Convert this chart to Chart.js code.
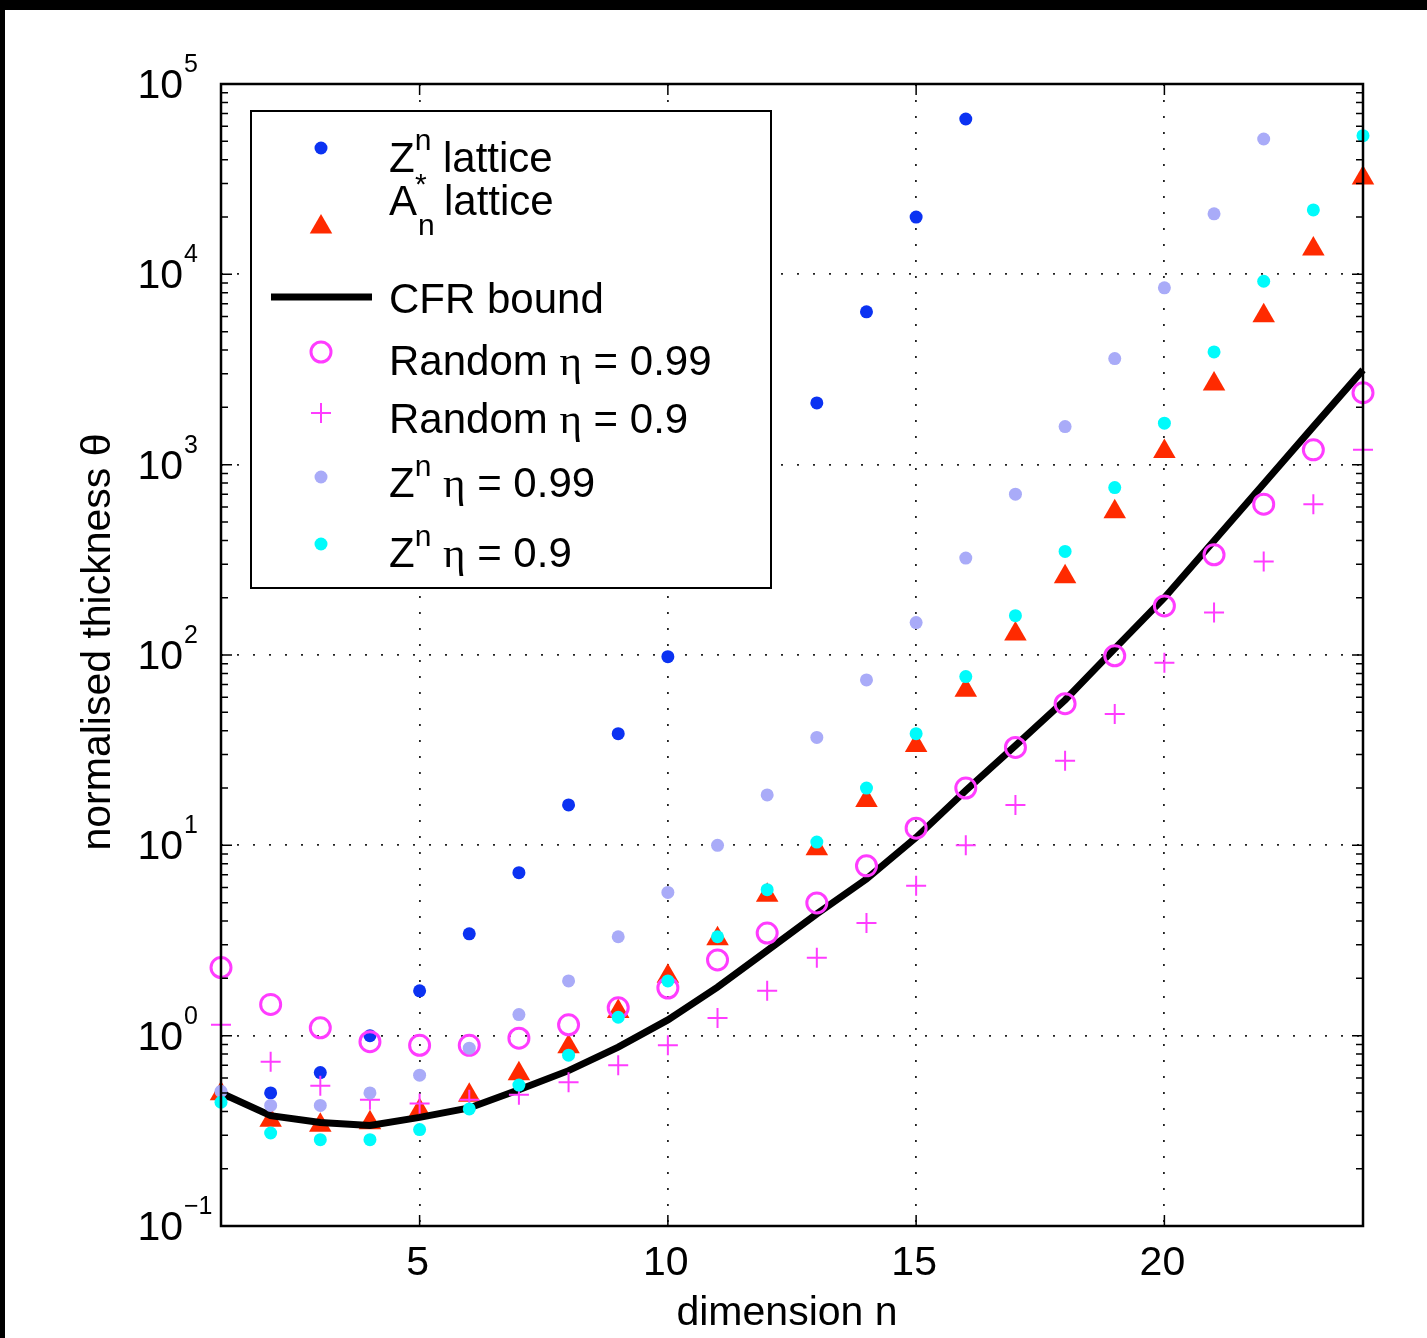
<!DOCTYPE html>
<html>
<head>
<meta charset="utf-8">
<title>Normalised thickness vs dimension</title>
<script src="https://cdn.jsdelivr.net/npm/chart.js@4.4.1/dist/chart.umd.min.js"></script>
<style>
  html, body { margin: 0; padding: 0; background: #000; }
  #page { position: absolute; left: 5px; top: 10px; width: 1422px; height: 1328px; background: #fff; }
  #chart { position: absolute; left: 0; top: 0; }
</style>
</head>
<body>
<div id="page"></div>
<canvas id="chart" width="1427" height="1338"></canvas>
<script>
// Data (normalised thickness per dimension n)
const dims = [1, 2, 3, 4, 5, 6, 7, 8, 9, 10, 11, 12, 13, 14, 15, 16, 17, 18, 19, 20, 21, 22, 23, 24];
// n = 11 sits behind the legend, n = 12 is not visible at all
const zLattice = [0.50, 0.50, 0.64, 1.0, 1.72, 3.43, 7.18, 16.3, 38.6, 98, 263, null, 2110, 6350, 20000, 65500,
                  null, null, null, null, null, null, null, null];
const anLattice = [0.496, 0.359, 0.338, 0.349, 0.405, 0.486, 0.63, 0.875, 1.34, 2.05, 3.23, 5.46, 9.6, 17.2,
                   33.5, 65.2, 129, 258, 565, 1172, 2655, 6050, 13600, 32100];
const cfrBound = [0.50, 0.38, 0.35, 0.337, 0.372, 0.417, 0.52, 0.655, 0.87, 1.21, 1.8, 2.8, 4.36, 6.65,
                  11, 19.4, 33.4, 58, 108, 200, 398, 794, 1585, 3150];
const random099 = [2.28, 1.46, 1.10, 0.93, 0.89, 0.89, 0.97, 1.14, 1.40, 1.78, 2.5, 3.46, 4.98, 7.8,
                   12.3, 20, 32.7, 55.5, 99, 181, 336, 620, 1196, 2390];
const random09 = [1.14, 0.73, 0.546, 0.46, 0.44, 0.46, 0.49, 0.57, 0.70, 0.89, 1.24, 1.72, 2.57, 3.91,
                  6.14, 10, 16.3, 27.8, 49, 91, 167, 310, 620, 1196];
const zn099 = [0.51, 0.43, 0.43, 0.50, 0.62, 0.86, 1.29, 1.94, 3.31, 5.66, 10.0, 18.4, 36.9, 74,
               148, 323, 700, 1585, 3610, 8490, 20800, 51400, null, null];
const zn09 = [0.447, 0.308, 0.284, 0.284, 0.321, 0.412, 0.55, 0.79, 1.25, 1.94, 3.31, 5.85, 10.4, 20,
              38.6, 77, 161, 350, 758, 1652, 3910, 9200, 21800, 53500];

const xTicks = [5, 10, 15, 20];
const yDecades = [-1, 0, 1, 2, 3, 4, 5];

const SANS = '"Liberation Sans", Arial, Helvetica, sans-serif';
const SERIF = '"Liberation Serif", "Times New Roman", serif';
const BLUE = '#0b32f2';
const RED = '#ff2a00';
const MAGENTA = '#ff3cff';
const LAVENDER = '#a9abf8';
const CYAN = '#00fbfb';

function toPoints(values) {
    return dims.map((n, i) => ({ x: n, y: values[i] })).filter(p => p.y !== null);
}

// small drawing helpers for legend markers
function dot(ctx, x, y, r, color) {
    ctx.fillStyle = color;
    ctx.beginPath();
    ctx.arc(x, y, r, 0, Math.PI * 2);
    ctx.fill();
}

function drawRuns(ctx, x, y, runs) {
    for (const r of runs) {
        ctx.font = r.font;
        ctx.fillText(r.text, x, y + (r.dy || 0));
        x += ctx.measureText(r.text).width + (r.dx || 0);
    }
}

const big = '41px ' + SANS;
const leg = '42px ' + SANS;
const small = '30px ' + SANS;
const eta = '43px ' + SERIF;

const framePlugin = {
    id: 'frame',
    afterDatasetsDraw(chart) {
        const { ctx, chartArea: a, scales: { x, y } } = chart;
        ctx.save();
        ctx.strokeStyle = '#000';
        ctx.lineWidth = 1.5;
        ctx.beginPath();
        // x tick marks, inside top and bottom
        xTicks.forEach(v => {
            const px = x.getPixelForValue(v);
            ctx.moveTo(px, a.bottom); ctx.lineTo(px, a.bottom - 11);
            ctx.moveTo(px, a.top); ctx.lineTo(px, a.top + 11);
        });
        // log y ticks (major + minor), inside left and right
        yDecades.forEach(e => {
            for (let m = 1; m <= 9; m++) {
                const v = m * Math.pow(10, e);
                if (v > 1e5 * 1.0001) break;
                const py = y.getPixelForValue(v);
                const len = m === 1 ? 11 : 7;
                ctx.moveTo(a.left, py); ctx.lineTo(a.left + len, py);
                ctx.moveTo(a.right, py); ctx.lineTo(a.right - len, py);
            }
        });
        ctx.stroke();

        ctx.lineWidth = 2.5;
        ctx.strokeRect(a.left, a.top, a.right - a.left, a.bottom - a.top);

        // tick labels
        ctx.fillStyle = '#000';
        ctx.textAlign = 'center';
        ctx.textBaseline = 'alphabetic';
        ctx.font = big;
        xTicks.forEach(v => ctx.fillText(String(v), x.getPixelForValue(v) - 2, a.bottom + 49));

        yDecades.forEach(e => {
            const py = y.getPixelForValue(Math.pow(10, e));
            ctx.textAlign = 'right';
            ctx.font = big;
            ctx.fillText('10', a.left - 38, py + 14);
            ctx.textAlign = 'left';
            ctx.font = '25px ' + SANS;
            ctx.fillText(e < 0 ? '\u2212' + (-e) : String(e), a.left - 37, py - 12);
        });

        // axis titles
        ctx.textAlign = 'center';
        ctx.font = big;
        ctx.fillText('dimension n', (a.left + a.right) / 2 - 5, a.bottom + 99);
        ctx.save();
        ctx.translate(110, 642);
        ctx.rotate(-Math.PI / 2);
        ctx.fillText('normalised thickness \u03b8', 0, 0);
        ctx.restore();
        ctx.restore();
    },
    afterDraw(chart) {
        const ctx = chart.ctx;
        ctx.save();
        // legend box
        ctx.fillStyle = '#fff';
        ctx.fillRect(251, 111, 520, 477);
        ctx.strokeStyle = '#000';
        ctx.lineWidth = 2;
        ctx.strokeRect(251, 111, 520, 477);

        const mx = 321;
        dot(ctx, mx, 148, 6.5, BLUE);
        // triangle
        const r = 13, ty = 227;
        ctx.fillStyle = RED;
        ctx.beginPath();
        ctx.moveTo(mx, ty - r);
        ctx.lineTo(mx + r * 0.866, ty + r / 2);
        ctx.lineTo(mx - r * 0.866, ty + r / 2);
        ctx.closePath();
        ctx.fill();
        // line
        ctx.strokeStyle = '#000';
        ctx.lineWidth = 7;
        ctx.beginPath();
        ctx.moveTo(271, 297); ctx.lineTo(372, 297);
        ctx.stroke();
        // ring
        ctx.strokeStyle = MAGENTA;
        ctx.lineWidth = 3;
        ctx.beginPath();
        ctx.arc(mx, 352, 10, 0, Math.PI * 2);
        ctx.stroke();
        // plus
        ctx.lineWidth = 2;
        ctx.beginPath();
        ctx.moveTo(mx - 10, 413); ctx.lineTo(mx + 10, 413);
        ctx.moveTo(mx, 403); ctx.lineTo(mx, 423);
        ctx.stroke();
        dot(ctx, mx, 477, 6.5, LAVENDER);
        dot(ctx, mx, 544, 6.5, CYAN);

        // legend text
        ctx.fillStyle = '#000';
        ctx.textAlign = 'left';
        ctx.textBaseline = 'alphabetic';
        const tx = 389;
        drawRuns(ctx, tx, 172, [
            { text: 'Z', font: leg },
            { text: 'n', font: small, dy: -22 },
            { text: ' lattice', font: leg }
        ]);
        ctx.font = leg;
        ctx.fillText('A', tx, 215);
        const aw = ctx.measureText('A').width;
        ctx.font = small;
        ctx.fillText('*', tx + aw - 2, 194);
        ctx.fillText('n', tx + aw + 1, 235);
        ctx.font = leg;
        ctx.fillText('lattice', 444, 215);
        ctx.fillText('CFR bound', tx, 313);
        drawRuns(ctx, tx, 375, [
            { text: 'Random ', font: leg },
            { text: '\u03b7', font: eta },
            { text: ' = 0.99', font: leg }
        ]);
        drawRuns(ctx, tx, 433, [
            { text: 'Random ', font: leg },
            { text: '\u03b7', font: eta },
            { text: ' = 0.9', font: leg }
        ]);
        drawRuns(ctx, tx, 497, [
            { text: 'Z', font: leg },
            { text: 'n', font: small, dy: -21 },
            { text: ' ', font: leg },
            { text: '\u03b7', font: eta },
            { text: ' = 0.99', font: leg }
        ]);
        drawRuns(ctx, tx, 567, [
            { text: 'Z', font: leg },
            { text: 'n', font: small, dy: -21 },
            { text: ' ', font: leg },
            { text: '\u03b7', font: eta },
            { text: ' = 0.9', font: leg }
        ]);
        ctx.restore();
    }
};

const dotted = { color: '#222', lineWidth: 1.8, drawTicks: false };

new Chart(document.getElementById('chart'), {
    type: 'scatter',
    data: {
        datasets: [
            {
                label: 'Zn lattice', data: toPoints(zLattice), order: 7, clip: false,
                pointStyle: 'circle', pointRadius: 6.5, backgroundColor: BLUE, borderWidth: 0
            },
            {
                label: 'An* lattice', data: toPoints(anLattice), order: 6, clip: false,
                pointStyle: 'triangle', pointRadius: 13, backgroundColor: RED, borderWidth: 0
            },
            {
                label: 'CFR bound', data: toPoints(cfrBound), order: 5, clip: false,
                showLine: true, borderColor: '#000', borderWidth: 7, pointRadius: 0, tension: 0
            },
            {
                label: 'Random eta = 0.99', data: toPoints(random099), order: 4, clip: false,
                pointStyle: 'circle', pointRadius: 10, backgroundColor: 'rgba(0,0,0,0)',
                borderColor: MAGENTA, borderWidth: 3
            },
            {
                label: 'Random eta = 0.9', data: toPoints(random09), order: 3, clip: false,
                pointStyle: 'cross', pointRadius: 10, borderColor: MAGENTA, borderWidth: 2
            },
            {
                label: 'Zn eta = 0.99', data: toPoints(zn099), order: 2, clip: false,
                pointStyle: 'circle', pointRadius: 6.5, backgroundColor: LAVENDER, borderWidth: 0
            },
            {
                label: 'Zn eta = 0.9', data: toPoints(zn09), order: 1, clip: false,
                pointStyle: 'circle', pointRadius: 6.5, backgroundColor: CYAN, borderWidth: 0
            }
        ]
    },
    options: {
        responsive: false,
        animation: false,
        events: [],
        layout: { padding: { left: 221, top: 84, right: 64, bottom: 112 } },
        plugins: { legend: { display: false }, tooltip: { enabled: false } },
        scales: {
            x: {
                type: 'linear', min: 1, max: 24,
                afterBuildTicks: s => { s.ticks = xTicks.map(v => ({ value: v })); },
                ticks: { display: false },
                grid: dotted,
                border: { display: false, dash: [2, 14] }
            },
            y: {
                type: 'logarithmic', min: 0.1, max: 1e5,
                afterBuildTicks: s => { s.ticks = yDecades.map(e => ({ value: Math.pow(10, e) })); },
                ticks: { display: false },
                grid: dotted,
                border: { display: false, dash: [2, 14] }
            }
        }
    },
    plugins: [framePlugin]
});
</script>
</body>
</html>
